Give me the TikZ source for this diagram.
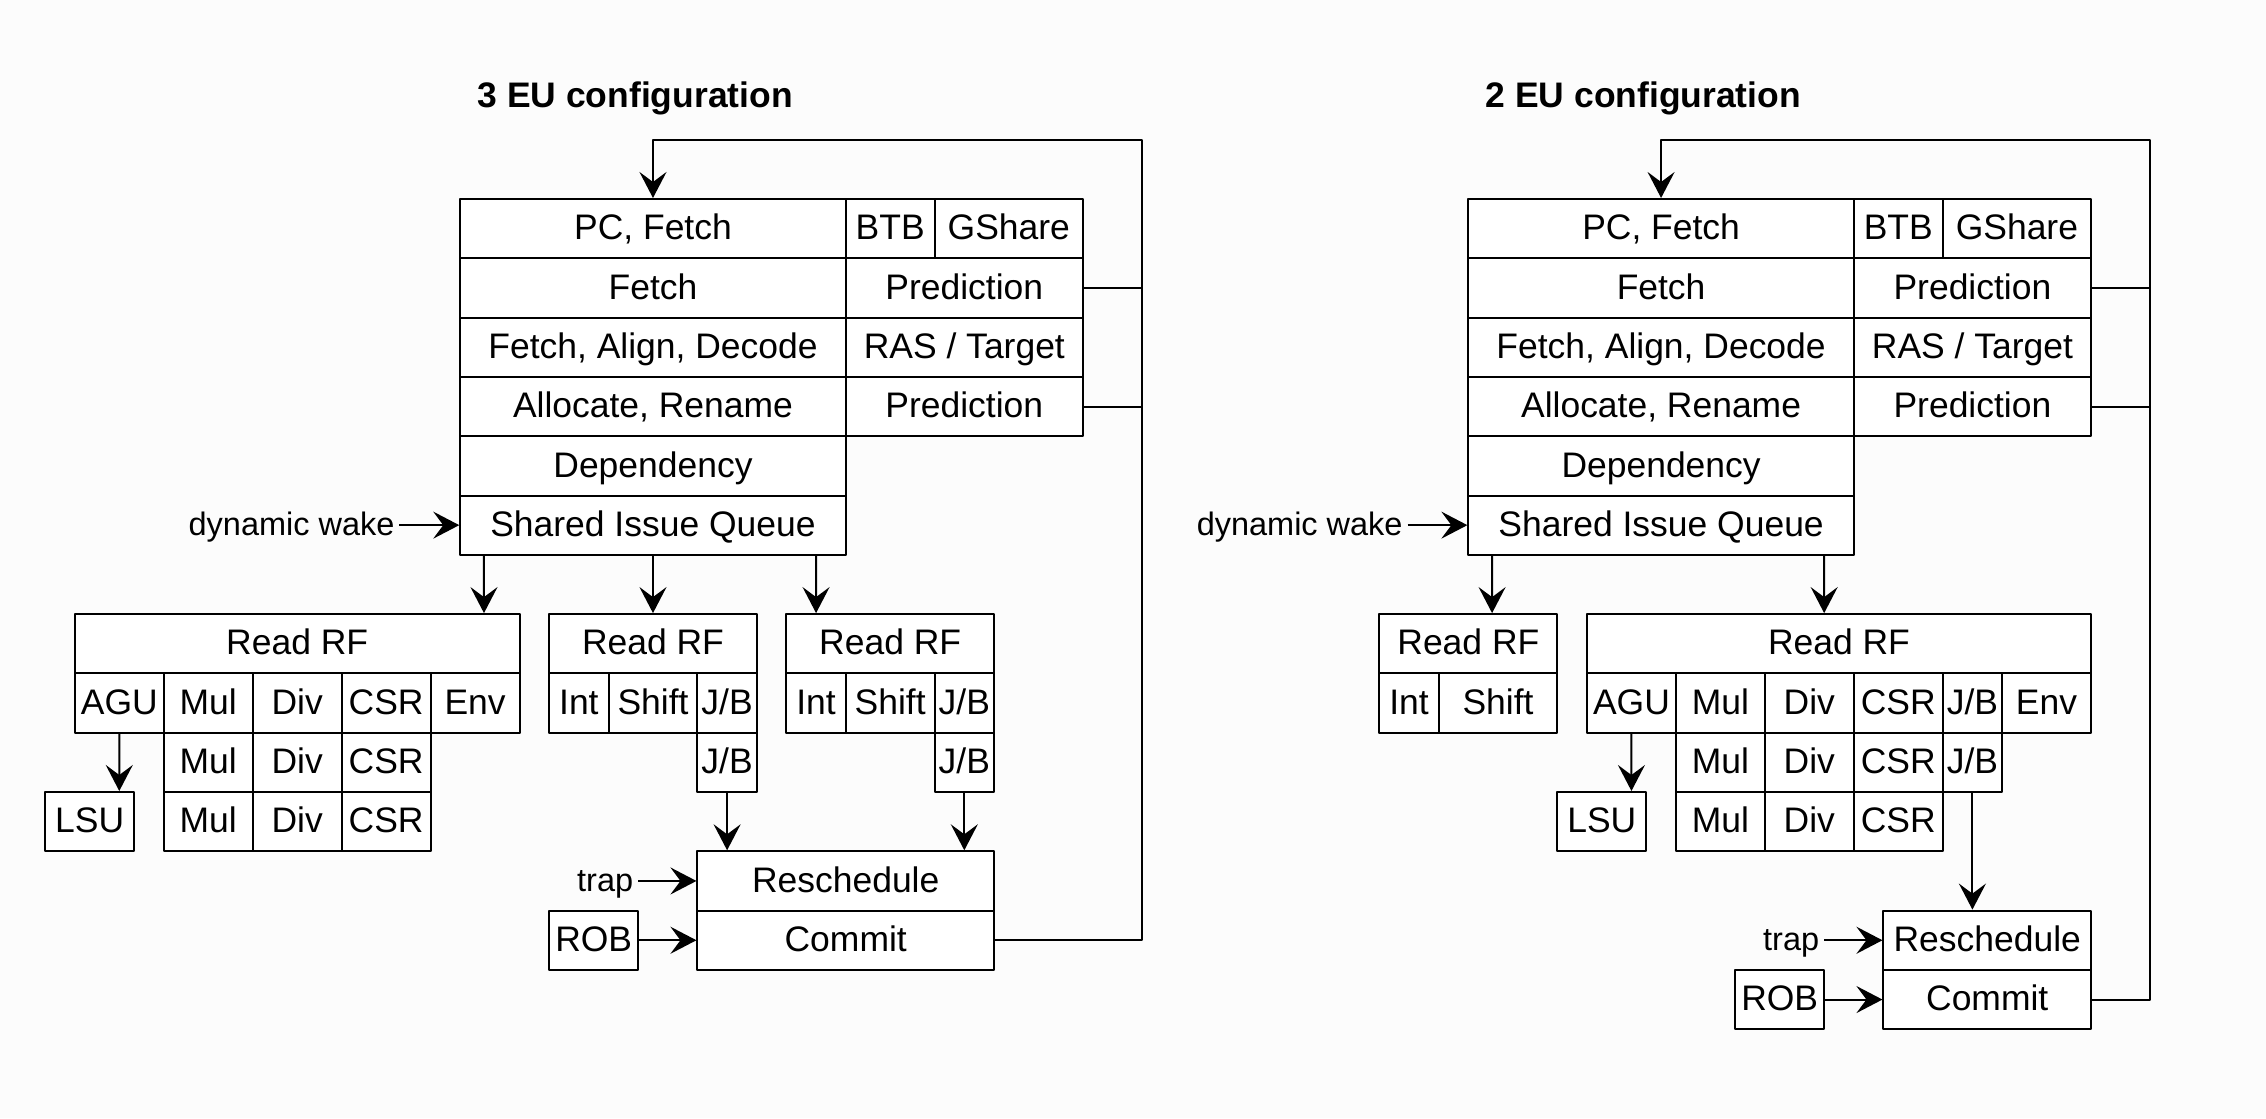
\documentclass[tikz,border=0pt]{standalone}
\usepackage{fontspec}
\setmainfont{Liberation Sans}
\usetikzlibrary{arrows.meta}
\definecolor{bgcol}{RGB}{252,252,252}
\begin{document}
\begin{tikzpicture}[>={Stealth[length=13bp,width=13.5bp,inset=5bp]},line join=bevel,line width=1bp,
  cell/.style={draw,fill=white,inner sep=0pt,minimum height=29.65bp,text height=14bp,text depth=2.8bp,font=\fontsize{17.8}{21}\selectfont},
  lbl/.style={draw=none,inner sep=2bp,text height=13bp,text depth=2.6bp,font=\fontsize{16.3}{19}\selectfont},
  ttl/.style={draw=none,font=\bfseries\fontsize{17.8}{21}\selectfont},]
\useasboundingbox (-7.75bp,0bp) rectangle (1125.25bp,559.08bp);
\fill [bgcol] (-7.75bp,0bp) rectangle (1125.25bp,559.08bp);
%% 3 EU configuration
\node (l_title) at (309.84bp,509.76bp) [ttl] {3 EU configuration};
\node (l_pc) at (318.74bp,444.75bp) [cell,minimum width=192.725bp] {PC, Fetch};
  \node (l_btb) at (437.34bp,444.75bp) [cell,minimum width=44.475bp] {BTB};
  \node (l_gsh) at (496.64bp,444.75bp) [cell,minimum width=74.125bp] {GShare};
  \node (l_fetch) at (318.74bp,415.10bp) [cell,minimum width=192.725bp] {Fetch};
  \node (l_pred1) at (474.40bp,415.10bp) [cell,minimum width=118.6bp] {Prediction};
  \node (l_dec) at (318.74bp,385.45bp) [cell,minimum width=192.725bp] {Fetch, Align, Decode};
  \node (l_ras) at (474.40bp,385.45bp) [cell,minimum width=118.6bp] {RAS / Target};
  \node (l_ren) at (318.74bp,355.80bp) [cell,minimum width=192.725bp] {Allocate, Rename};
  \node (l_pred2) at (474.40bp,355.80bp) [cell,minimum width=118.6bp] {Prediction};
  \node (l_dep) at (318.74bp,326.15bp) [cell,minimum width=192.725bp] {Dependency};
  \node (l_siq) at (318.74bp,296.50bp) [cell,minimum width=192.725bp] {Shared Issue Queue};
  \node (l_wake) at (191.98bp,296.50bp) [lbl,anchor=east] {dynamic wake};
%
\node (l_rf1) at (140.84bp,237.20bp) [cell,minimum width=222.375bp] {Read RF};
  \node (l_agu) at (51.89bp,207.55bp) [cell,minimum width=44.475bp] {AGU};
  \node (l_mul1) at (96.36bp,207.55bp) [cell,minimum width=44.475bp] {Mul};
  \node (l_div1) at (140.84bp,207.55bp) [cell,minimum width=44.475bp] {Div};
  \node (l_csr1) at (185.31bp,207.55bp) [cell,minimum width=44.475bp] {CSR};
  \node (l_env) at (229.79bp,207.55bp) [cell,minimum width=44.475bp] {Env};
  \node (l_mul2) at (96.36bp,177.90bp) [cell,minimum width=44.475bp] {Mul};
  \node (l_div2) at (140.84bp,177.90bp) [cell,minimum width=44.475bp] {Div};
  \node (l_csr2) at (185.31bp,177.90bp) [cell,minimum width=44.475bp] {CSR};
  \node (l_mul3) at (96.36bp,148.25bp) [cell,minimum width=44.475bp] {Mul};
  \node (l_div3) at (140.84bp,148.25bp) [cell,minimum width=44.475bp] {Div};
  \node (l_csr3) at (185.31bp,148.25bp) [cell,minimum width=44.475bp] {CSR};
  \node (l_lsu) at (37.06bp,148.25bp) [cell,minimum width=44.475bp] {LSU};
%
\node (l_rf2) at (318.74bp,237.20bp) [cell,minimum width=103.775bp] {Read RF};
  \node (l_int1) at (281.68bp,207.55bp) [cell,minimum width=29.65bp] {Int};
  \node (l_sh1) at (318.74bp,207.55bp) [cell,minimum width=44.475bp] {Shift};
  \node (l_jb1) at (355.80bp,207.55bp) [cell,minimum width=29.65bp] {J/B};
  \node (l_jb2) at (355.80bp,177.90bp) [cell,minimum width=29.65bp] {J/B};
  \node (l_rf3) at (437.34bp,237.20bp) [cell,minimum width=103.775bp] {Read RF};
  \node (l_int2) at (400.28bp,207.55bp) [cell,minimum width=29.65bp] {Int};
  \node (l_sh2) at (437.34bp,207.55bp) [cell,minimum width=44.475bp] {Shift};
  \node (l_jb3) at (474.40bp,207.55bp) [cell,minimum width=29.65bp] {J/B};
  \node (l_jb4) at (474.40bp,177.90bp) [cell,minimum width=29.65bp] {J/B};
%
\node (l_resch) at (415.10bp,118.60bp) [cell,minimum width=148.25bp] {Reschedule};
  \node (l_commit) at (415.10bp,88.95bp) [cell,minimum width=148.25bp] {Commit};
  \node (l_trap) at (311.33bp,118.60bp) [lbl,anchor=east] {trap};
  \node (l_rob) at (289.09bp,88.95bp) [cell,minimum width=44.475bp] {ROB};
  \coordinate (l_fb) at (563.35bp,489.23bp);
%
\draw [black,->] (l_wake) -- (l_siq);
  \draw [black,->] ([xshift=-84.5bp]l_siq.south) -- ([xshift=93.4bp]l_rf1.north);
  \draw [black,->] (l_siq.south) -- (l_rf2.north);
  \draw [black,->] ([xshift=81.54bp]l_siq.south) -- ([xshift=-37.06bp]l_rf3.north);
  \draw [black,->] (l_agu.south) -- ([xshift=14.83bp]l_lsu.north);
  \draw [black,->] (l_jb2.south) -- ([xshift=-59.3bp]l_resch.north);
  \draw [black,->] (l_jb4.south) -- ([xshift=59.3bp]l_resch.north);
  \draw [black,->] (l_trap) -- (l_resch);
  \draw [black,->] (l_rob) -- (l_commit);
  \draw [black] (l_pred1.east) -- (l_pred1.east -| l_fb);
  \draw [black] (l_pred2.east) -- (l_pred2.east -| l_fb);
  \draw [black,->] (l_commit.east) -| (l_fb) -| (l_pc.north);
%% 2 EU configuration
\node (r_title) at (813.89bp,509.76bp) [ttl] {2 EU configuration};
\node (r_pc) at (822.79bp,444.75bp) [cell,minimum width=192.725bp] {PC, Fetch};
  \node (r_btb) at (941.39bp,444.75bp) [cell,minimum width=44.475bp] {BTB};
  \node (r_gsh) at (1000.69bp,444.75bp) [cell,minimum width=74.125bp] {GShare};
  \node (r_fetch) at (822.79bp,415.10bp) [cell,minimum width=192.725bp] {Fetch};
  \node (r_pred1) at (978.45bp,415.10bp) [cell,minimum width=118.6bp] {Prediction};
  \node (r_dec) at (822.79bp,385.45bp) [cell,minimum width=192.725bp] {Fetch, Align, Decode};
  \node (r_ras) at (978.45bp,385.45bp) [cell,minimum width=118.6bp] {RAS / Target};
  \node (r_ren) at (822.79bp,355.80bp) [cell,minimum width=192.725bp] {Allocate, Rename};
  \node (r_pred2) at (978.45bp,355.80bp) [cell,minimum width=118.6bp] {Prediction};
  \node (r_dep) at (822.79bp,326.15bp) [cell,minimum width=192.725bp] {Dependency};
  \node (r_siq) at (822.79bp,296.50bp) [cell,minimum width=192.725bp] {Shared Issue Queue};
  \node (r_wake) at (696.03bp,296.50bp) [lbl,anchor=east] {dynamic wake};
%
\node (r_rf1) at (726.43bp,237.20bp) [cell,minimum width=88.95bp] {Read RF};
  \node (r_int) at (696.78bp,207.55bp) [cell,minimum width=29.65bp] {Int};
  \node (r_sh) at (741.25bp,207.55bp) [cell,minimum width=59.3bp] {Shift};
%
\node (r_rf2) at (911.74bp,237.20bp) [cell,minimum width=252.025bp] {Read RF};
  \node (r_agu) at (807.96bp,207.55bp) [cell,minimum width=44.475bp] {AGU};
  \node (r_mul1) at (852.44bp,207.55bp) [cell,minimum width=44.475bp] {Mul};
  \node (r_div1) at (896.91bp,207.55bp) [cell,minimum width=44.475bp] {Div};
  \node (r_csr1) at (941.39bp,207.55bp) [cell,minimum width=44.475bp] {CSR};
  \node (r_jb1) at (978.45bp,207.55bp) [cell,minimum width=29.65bp] {J/B};
  \node (r_env) at (1015.51bp,207.55bp) [cell,minimum width=44.475bp] {Env};
  \node (r_mul2) at (852.44bp,177.90bp) [cell,minimum width=44.475bp] {Mul};
  \node (r_div2) at (896.91bp,177.90bp) [cell,minimum width=44.475bp] {Div};
  \node (r_csr2) at (941.39bp,177.90bp) [cell,minimum width=44.475bp] {CSR};
  \node (r_jb2) at (978.45bp,177.90bp) [cell,minimum width=29.65bp] {J/B};
  \node (r_mul3) at (852.44bp,148.25bp) [cell,minimum width=44.475bp] {Mul};
  \node (r_div3) at (896.91bp,148.25bp) [cell,minimum width=44.475bp] {Div};
  \node (r_csr3) at (941.39bp,148.25bp) [cell,minimum width=44.475bp] {CSR};
  \node (r_lsu) at (793.14bp,148.25bp) [cell,minimum width=44.475bp] {LSU};
%
\node (r_resch) at (985.86bp,88.95bp) [cell,minimum width=103.775bp] {Reschedule};
  \node (r_commit) at (985.86bp,59.30bp) [cell,minimum width=103.775bp] {Commit};
  \node (r_trap) at (904.33bp,88.95bp) [lbl,anchor=east] {trap};
  \node (r_rob) at (882.09bp,59.30bp) [cell,minimum width=44.475bp] {ROB};
  \coordinate (r_fb) at (1067.40bp,489.23bp);
%
\draw [black,->] (r_wake) -- (r_siq);
  \draw [black,->] ([xshift=-84.5bp]r_siq.south) -- ([xshift=11.86bp]r_rf1.north);
  \draw [black,->] ([xshift=81.54bp]r_siq.south) -- ([xshift=-7.41bp]r_rf2.north);
  \draw [black,->] (r_agu.south) -- ([xshift=14.83bp]r_lsu.north);
  \draw [black,->] (r_jb2.south) -- ([xshift=-7.41bp]r_resch.north);
  \draw [black,->] (r_trap) -- (r_resch);
  \draw [black,->] (r_rob) -- (r_commit);
  \draw [black] (r_pred1.east) -- (r_pred1.east -| r_fb);
  \draw [black] (r_pred2.east) -- (r_pred2.east -| r_fb);
  \draw [black,->] (r_commit.east) -| (r_fb) -| (r_pc.north);
%
\end{tikzpicture}
\end{document}
